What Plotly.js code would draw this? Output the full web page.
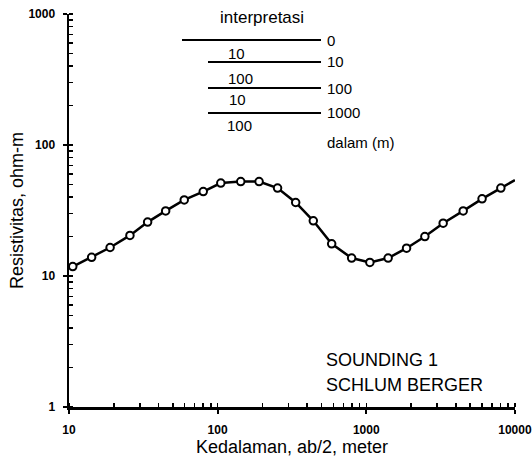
<!DOCTYPE html>
<html>
<head>
<meta charset="utf-8">
<script src="https://cdn.plot.ly/plotly-3.0.1.min.js"></script>
<style>html,body{margin:0;padding:0;background:#fff;}#chart{width:532px;height:464px;}</style>
</head>
<body>
<div id="chart"></div>
<script>
// Measured data points (AB/2 in meters, apparent resistivity in ohm-m)
const abHalf = [10.6, 14.2, 18.9, 25.7, 33.8, 44.7, 59.6, 80, 105, 143, 190, 253, 335, 440, 585, 797, 1057, 1403, 1866, 2478, 3290, 4487, 6010, 8040];
const resistivity = [11.8, 13.9, 16.5, 20.4, 25.8, 31.4, 38.1, 44.1, 51.2, 52.6, 52.6, 46.9, 36.4, 26.4, 17.6, 13.7, 12.7, 13.7, 16.3, 20.0, 25.3, 31.4, 38.8, 46.9];
// Curve continues past last point
const curveEndX = 10000;
const curveEndY = 54;

// Interpretation table
const layerRes = ['10', '100', '10', '100'];
const layerDepth = ['0', '10', '100', '1000'];

const xTickVals = [10, 100, 1000, 10000];
const xTickText = ['10', '100', '1000', '10000'];
const yTickVals = [1, 10, 100, 1000];
const yTickText = ['1', '10', '100', '1000'];

const FONT = 'Liberation Sans, Arial, sans-serif';
const L = 69, R = 515, T = 14, B = 407;
const px = x => (x - L) / (R - L);
const py = y => (B - y) / (B - T);

const curve = {
  x: abHalf.concat([curveEndX]),
  y: resistivity.concat([curveEndY]),
  mode: 'lines', type: 'scatter',
  line: {color: '#000', width: 2.5},
  hoverinfo: 'skip', showlegend: false, cliponaxis: false
};
const pts = {
  x: abHalf, y: resistivity,
  mode: 'markers', type: 'scatter',
  marker: {symbol: 'circle', size: 7.5, color: '#fff', line: {color: '#000', width: 2}},
  showlegend: false, cliponaxis: false
};

const annotations = [];
const shapes = [];
annotations.push({xref: 'paper', yref: 'paper', x: px(262), y: py(18), text: 'interpretasi', showarrow: false, xanchor: 'center', yanchor: 'middle', font: {family: FONT, size: 17, color: '#000'}});
const lineY = [40, 62, 88, 113];
const lineX0 = [182, 208, 208, 208];
const resY = [53, 78, 99, 125];
const resX = [236, 240, 237, 239];
for (let i = 0; i < 4; i++) {
  shapes.push({type: 'line', xref: 'paper', yref: 'paper', x0: px(lineX0[i]), x1: px(321), y0: py(lineY[i]), y1: py(lineY[i]), line: {color: '#000', width: 2}});
  annotations.push({xref: 'paper', yref: 'paper', x: px(325), y: py(lineY[i]), text: layerDepth[i], showarrow: false, xanchor: 'left', yanchor: 'middle', font: {family: FONT, size: 15, color: '#000'}});
  annotations.push({xref: 'paper', yref: 'paper', x: px(resX[i]), y: py(resY[i]), text: layerRes[i], showarrow: false, xanchor: 'center', yanchor: 'middle', font: {family: FONT, size: 15, color: '#000'}});
}
annotations.push({xref: 'paper', yref: 'paper', x: px(325), y: py(142), text: 'dalam (m)', showarrow: false, xanchor: 'left', yanchor: 'middle', font: {family: FONT, size: 15, color: '#000'}});
annotations.push({xref: 'paper', yref: 'paper', x: px(324), y: py(360), text: 'SOUNDING 1', showarrow: false, xanchor: 'left', yanchor: 'middle', font: {family: FONT, size: 18, color: '#000'}});
annotations.push({xref: 'paper', yref: 'paper', x: px(324), y: py(385), text: 'SCHLUM BERGER', showarrow: false, xanchor: 'left', yanchor: 'middle', font: {family: FONT, size: 18, color: '#000'}});

const layout = {
  width: 532, height: 464,
  margin: {l: L, r: 532 - R, t: T, b: 464 - B, pad: 0},
  paper_bgcolor: '#fff', plot_bgcolor: '#fff',
  showlegend: false,
  xaxis: {
    type: 'log', range: [1, 4.0005], showgrid: false, zeroline: false,
    showline: true, linecolor: '#000', linewidth: 2.5, mirror: false,
    tickmode: 'array', tickvals: xTickVals, ticktext: xTickText,
    ticks: 'outside', ticklen: 4, tickwidth: 2, tickcolor: '#000',
    tickfont: {family: FONT, size: 12, color: '#000', weight: 'bold'},
    ticklabelstandoff: 6,
    minor: {ticks: 'inside', ticklen: 4, tickwidth: 1.5, tickcolor: '#000', dtick: 'D1', showgrid: false},
    title: {text: 'Kedalaman, ab/2, meter', font: {family: FONT, size: 18, color: '#000'}, standoff: 4},
    automargin: false
  },
  yaxis: {
    type: 'log', range: [0, 3], showgrid: false, zeroline: false,
    showline: true, linecolor: '#000', linewidth: 2.5, mirror: false,
    tickmode: 'array', tickvals: yTickVals, ticktext: yTickText,
    ticks: 'outside', ticklen: 4, tickwidth: 2, tickcolor: '#000',
    tickfont: {family: FONT, size: 12, color: '#000', weight: 'bold'},
    ticklabelstandoff: 5,
    minor: {ticks: 'inside', ticklen: 4, tickwidth: 1.5, tickcolor: '#000', dtick: 'D1', showgrid: false},
    title: {text: 'Resistivitas, ohm-m', font: {family: FONT, size: 18, color: '#000'}, standoff: 0},
    automargin: false
  },
  annotations: annotations,
  shapes: shapes
};

Plotly.newPlot('chart', [curve, pts], layout, {displayModeBar: false, staticPlot: true});
</script>
</body>
</html>
